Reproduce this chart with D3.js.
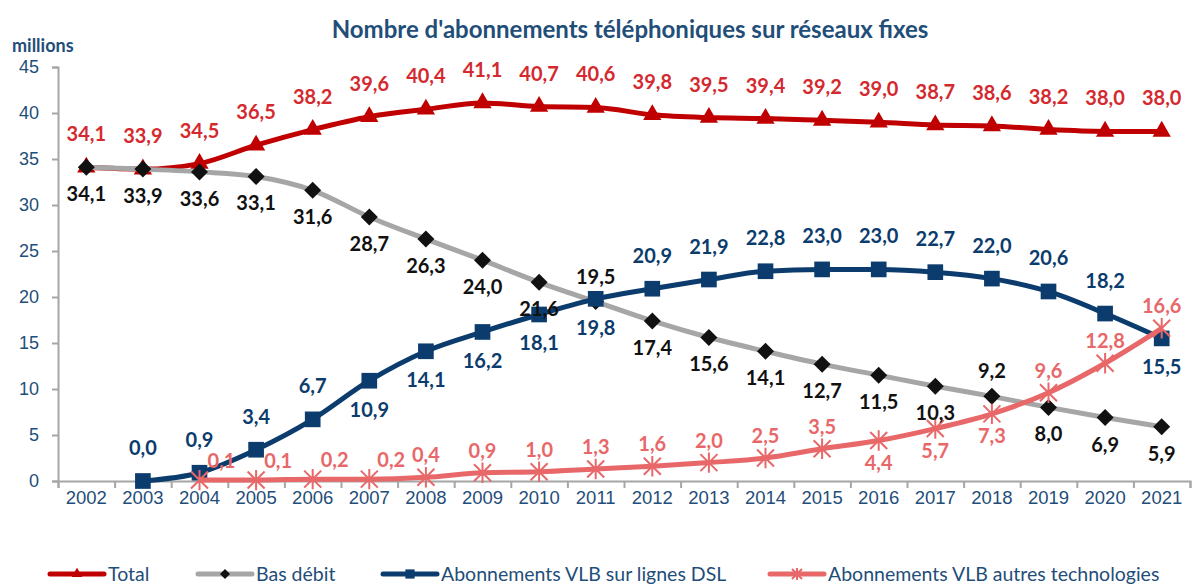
<!DOCTYPE html>
<html>
<head>
<meta charset="utf-8">
<script src="https://cdn.jsdelivr.net/npm/d3@7"></script>
<style>
  body { margin: 0; background: #fff; }
  svg { display: block; font-family: Lato, "Open Sans", sans-serif; }
</style>
</head>
<body>
<svg id="chart" width="1194" height="584"></svg>
<script>
// data
const years = ["2002","2003","2004","2005","2006","2007","2008","2009","2010","2011",
               "2012","2013","2014","2015","2016","2017","2018","2019","2020","2021"];
const total = [34.1,33.9,34.5,36.5,38.2,39.6,40.4,41.1,40.7,40.6,39.8,39.5,39.4,39.2,39.0,38.7,38.6,38.2,38.0,38.0];
const basDebit = [34.1,33.9,33.6,33.1,31.6,28.7,26.3,24.0,21.6,19.5,17.4,15.6,14.1,12.7,11.5,10.3,9.2,8.0,6.9,5.9];
const dsl = [null,0.0,0.9,3.4,6.7,10.9,14.1,16.2,18.1,19.8,20.9,21.9,22.8,23.0,23.0,22.7,22.0,20.6,18.2,15.5];
const autres = [null,null,0.1,0.1,0.2,0.2,0.4,0.9,1.0,1.3,1.6,2.0,2.5,3.5,4.4,5.7,7.3,9.6,12.8,16.6];
const yTicks = [0,5,10,15,20,25,30,35,40,45];

// label side: a = above, b = below, r = right/above
const totalSide = years.map(() => "a");
const basSide = ["b","b","b","b","b","b","b","b","b","a","b","b","b","b","b","b","a","b","b","b"];
const dslSide = ["","a","a","a","a","b","b","b","b","b","a","a","a","a","a","a","a","a","a","b"];
const autresSide = ["","","r","r","r","r","a","a","a","a","a","a","a","a","b","b","b","a","a","a"];

// config
const navy = "#1F4E79";
const margin = {top: 67, right: 4, bottom: 103, left: 58};
const svg = d3.select("#chart");
const W = 1194, H = 584;

const x = d3.scaleBand().domain(years).range([margin.left, W - margin.right]);
const y = d3.scaleLinear().domain([0, 45]).range([H - margin.bottom, margin.top]);
const cx = d => x(d) + x.bandwidth() / 2;

const fmt = v => d3.format(".1f")(v).replace(".", ",");

// title
svg.append("text").attr("x", 630).attr("y", 38).attr("text-anchor", "middle")
    .style("font-size", "24px").style("font-weight", "bold").attr("fill", navy)
    .text("Nombre d'abonnements téléphoniques sur réseaux fixes");
svg.append("text").attr("x", 12).attr("y", 52)
    .style("font-size", "18px").style("font-weight", "bold").attr("fill", navy)
    .text("millions");

// axes
const yAxis = svg.append("g").attr("transform", `translate(${margin.left},0)`)
    .call(d3.axisLeft(y).tickValues(yTicks).tickSize(6).tickPadding(13));
yAxis.selectAll("text").style("font-size", "18px").attr("fill", navy);

const xb = d3.scaleLinear().domain([0, years.length]).range(x.range());
svg.append("g").attr("transform", `translate(0,${y(0)})`)
    .call(d3.axisBottom(xb).ticks(years.length).tickFormat("").tickSize(7));
const xAxis = svg.append("g").attr("transform", `translate(0,${y(0)})`)
    .call(d3.axisBottom(x).tickSize(0).tickPadding(10));
xAxis.selectAll("text").style("font-size", "18.5px").attr("fill", navy);
xAxis.select(".domain").remove();
svg.selectAll(".domain, .tick line").attr("stroke", "#A6A6A6").attr("stroke-width", 2);

// series
const series = [
  {name: "Total", values: total, side: totalSide, line: "#C00000", label: "#D42A2F", marker: "tri",
   off: {a: -33, b: 28}},
  {name: "Bas débit", values: basDebit, side: basSide, line: "#A6A6A6", label: "#111", marker: "dia",
   off: {a: -25, b: 27}},
  {name: "Abonnements VLB sur lignes DSL", values: dsl, side: dslSide, line: "#0B3C6D", label: "#0B3C6D", marker: "sq",
   off: {a: -33, b: 29}},
  {name: "Abonnements VLB autres technologies", values: autres, side: autresSide, line: "#E8686A", label: "#E8686A", marker: "star",
   off: {a: -22, b: 22}}
];

function drawMarker(g, type, color, s) {
  if (type === "tri") {
    g.append("path").attr("d", d3.symbol(d3.symbolTriangle, s * s * 0.5)()).attr("fill", color);
  } else if (type === "dia") {
    g.append("path").attr("d", d3.symbol(d3.symbolSquare, s * s * 0.5)())
        .attr("transform", "rotate(45)").attr("fill", "#111");
  } else if (type === "sq") {
    g.append("path").attr("d", d3.symbol(d3.symbolSquare, s * s * 0.85)()).attr("fill", color);
  } else {
    const r = s / 2;
    g.append("path").attr("d", `M${-r},${-r}L${r},${r}M${-r},${r}L${r},${-r}M0,${-r * 1.2}L0,${r * 1.2}`)
        .attr("stroke", color).attr("stroke-width", 2).attr("fill", "none");
  }
}

const line = d3.line().defined(d => d.v != null)
    .x(d => cx(d.year)).y(d => y(d.v)).curve(d3.curveMonotoneX);

series.forEach(s => {
  const pts = years.map((yr, i) => ({year: yr, v: s.values[i], side: s.side[i]}));
  const g = svg.append("g").attr("class", "serie");
  g.append("path").datum(pts.filter(p => p.v != null)).attr("d", line)
      .attr("fill", "none").attr("stroke", s.line).attr("stroke-width", 5)
      .attr("stroke-linejoin", "round");
  pts.filter(p => p.v != null).forEach(p => {
    const m = g.append("g").attr("transform", `translate(${cx(p.year)},${y(p.v)})`);
    drawMarker(m, s.marker, s.line, 17);
  });
});

// labels drawn last
series.forEach(s => {
  const pts = years.map((yr, i) => ({year: yr, v: s.values[i], side: s.side[i]})).filter(p => p.v != null);
  svg.append("g").selectAll("text").data(pts).join("text")
      .attr("x", p => cx(p.year) + (p.side === "r" ? 22 : 0))
      .attr("y", p => y(p.v) + (p.side === "r" ? -19 : s.off[p.side]))
      .attr("dy", "0.35em").attr("text-anchor", "middle")
      .style("font-size", "20px").style("font-weight", "bold").attr("fill", s.label)
      .text(p => fmt(p.v));
});

// legend
const legendX = [50, 198, 383, 770];
const leg = svg.append("g").attr("transform", "translate(0,574)");
series.forEach((s, i) => {
  const g = leg.append("g").attr("transform", `translate(${legendX[i]},0)`);
  g.append("line").attr("x1", 0).attr("x2", 54).attr("stroke", s.line)
      .attr("stroke-width", 5).attr("stroke-linecap", "round");
  const m = g.append("g").attr("transform", "translate(27,0)");
  drawMarker(m, s.marker, s.line, 10);
  g.append("text").attr("x", 58).attr("dy", "0.35em")
      .style("font-size", "19.5px").attr("fill", navy).text(s.name);
});
</script>
</body>
</html>
